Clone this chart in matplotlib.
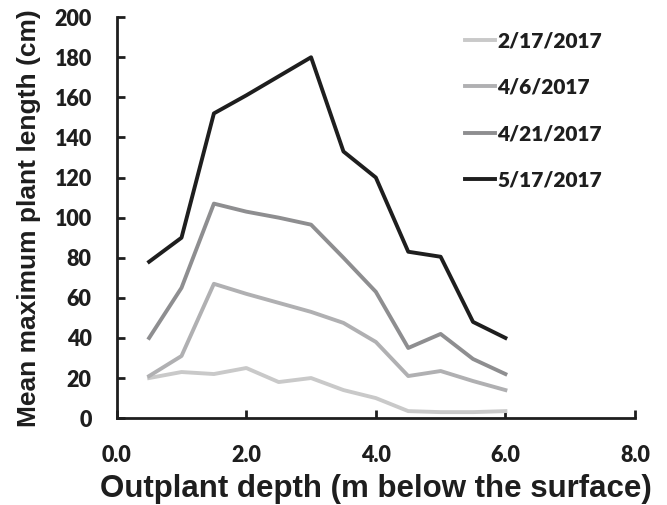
import matplotlib.pyplot as plt
from matplotlib.ticker import MultipleLocator

depth = [0.5, 1.0, 1.5, 2.0, 2.5, 3.0, 3.5, 4.0, 4.5, 5.0, 5.5, 6.0]
feb17 = [20, 23, 22, 25, 18, 20, 14, 10, 3.5, 3, 3, 3.5]
apr6 = [21, 31, 67, 62, 57.5, 53, 47.5, 38, 21, 23.5, 18.5, 14]
apr21 = [40, 65, 107, 103, 100, 96.5, 80, 63, 35, 42, 29.5, 22]
may17 = [78, 90, 152, 161, 170.5, 180, 133, 120, 83, 80.5, 48, 40]
labels = ['2/17/2017', '4/6/2017', '4/21/2017', '5/17/2017']
colors = ['#c9c9c9', '#b0b0b2', '#8e8e90', '#1e1e1e']

fig = plt.figure(figsize=(6.67, 5.05), dpi=100)
ax = fig.add_axes([0.175, 0.172, 0.777, 0.794])

for y, lab, c in zip([feb17, apr6, apr21, may17], labels, colors):
    ax.plot(depth, y, color=c, lw=2.8, label=lab)

ax.set_xlim(0, 8)
ax.set_ylim(0, 200)
ax.xaxis.set_major_locator(MultipleLocator(2))
ax.yaxis.set_major_locator(MultipleLocator(20))
ax.set_xticklabels(['{:.1f}'.format(v) for v in ax.get_xticks()])
for s in ['top', 'right']:
    ax.spines[s].set_visible(False)
for s in ['left', 'bottom']:
    ax.spines[s].set_linewidth(2)
    ax.spines[s].set_color('#1e1e1e')
ax.tick_params(direction='in', length=6, width=2, color='#1e1e1e')
ax.tick_params(axis='x', pad=19)
ax.tick_params(axis='y', pad=18)
for t in ax.get_xticklabels() + ax.get_yticklabels():
    t.set_fontfamily('Lato')
    t.set_fontweight('heavy')
    t.set_fontsize(15.5)
    t.set_color('#1e1e1e')

ax.set_xlabel('Outplant depth (m below the surface)', fontfamily='Liberation Sans',
              fontweight='bold', fontsize=22.5, color='#1e1e1e', labelpad=6)
ax.set_ylabel('Mean maximum plant length (cm)', fontfamily='Liberation Sans',
              fontweight='bold', fontsize=19, color='#1e1e1e', labelpad=10)

leg = ax.legend(loc='upper left', bbox_to_anchor=(0.672, 0.965), frameon=False,
                borderpad=0, borderaxespad=0,
                handlelength=1.45, handletextpad=0.1, labelspacing=1.32,
                prop={'family': 'Lato', 'weight': 'heavy', 'size': 15})
for t in leg.get_texts():
    t.set_color('#1e1e1e')

plt.savefig('out.png', dpi=100)
plt.close()
